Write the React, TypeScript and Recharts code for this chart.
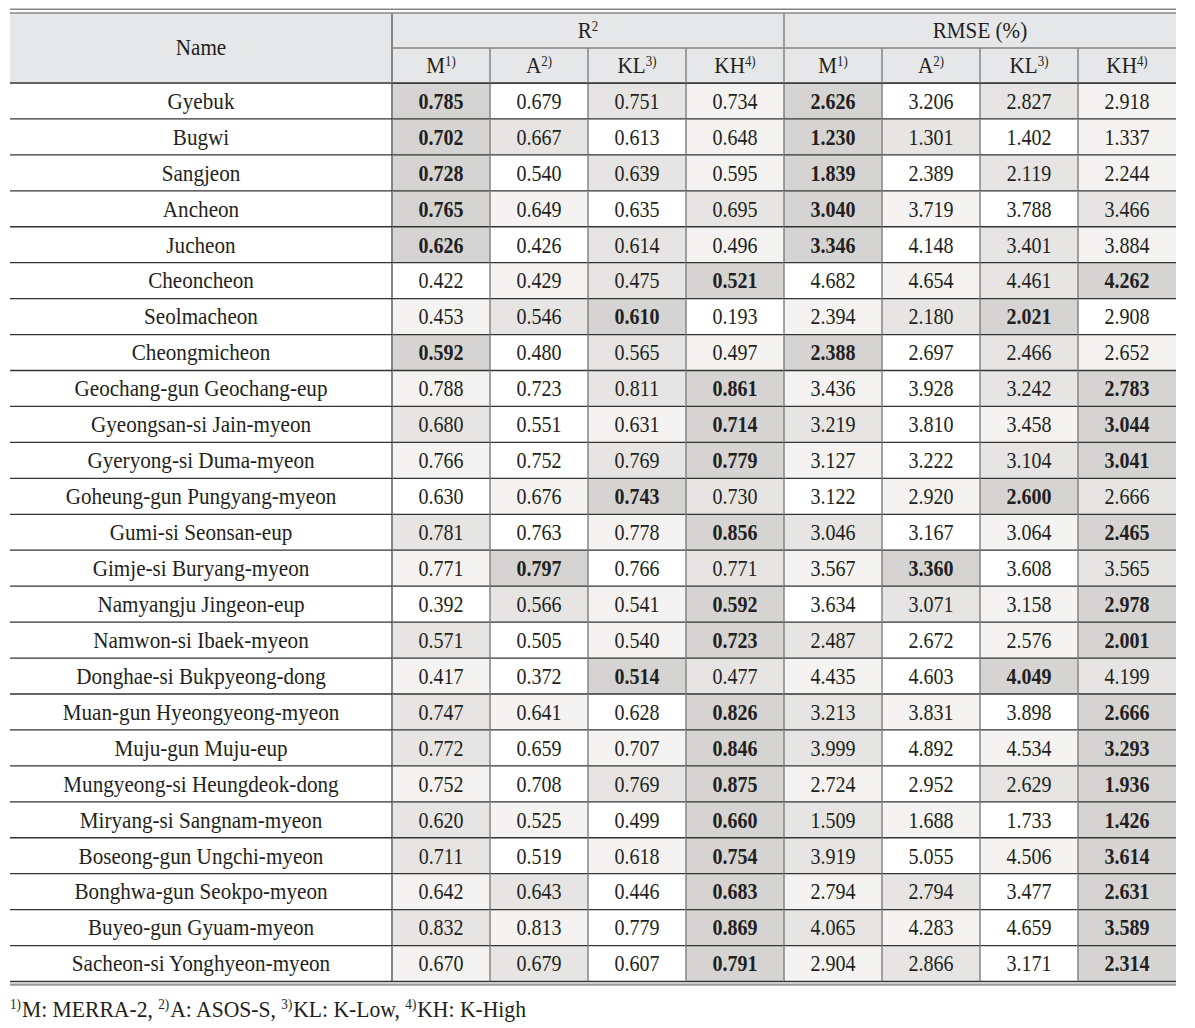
import React from "react";
import { ScatterChart, Scatter, XAxis, YAxis } from "recharts";

const names = [
  "Gyebuk", "Bugwi", "Sangjeon", "Ancheon", "Jucheon", "Cheoncheon", "Seolmacheon", "Cheongmicheon",
  "Geochang-gun Geochang-eup", "Gyeongsan-si Jain-myeon", "Gyeryong-si Duma-myeon", "Goheung-gun Pungyang-myeon",
  "Gumi-si Seonsan-eup", "Gimje-si Buryang-myeon", "Namyangju Jingeon-eup", "Namwon-si Ibaek-myeon",
  "Donghae-si Bukpyeong-dong", "Muan-gun Hyeongyeong-myeon", "Muju-gun Muju-eup", "Mungyeong-si Heungdeok-dong",
  "Miryang-si Sangnam-myeon", "Boseong-gun Ungchi-myeon", "Bonghwa-gun Seokpo-myeon", "Buyeo-gun Gyuam-myeon",
  "Sacheon-si Yonghyeon-myeon",
];

// R2 per source
const r2M = [0.785, 0.702, 0.728, 0.765, 0.626, 0.422, 0.453, 0.592, 0.788, 0.68, 0.766, 0.63, 0.781, 0.771, 0.392, 0.571, 0.417, 0.747, 0.772, 0.752, 0.62, 0.711, 0.642, 0.832, 0.67];
const r2A = [0.679, 0.667, 0.54, 0.649, 0.426, 0.429, 0.546, 0.48, 0.723, 0.551, 0.752, 0.676, 0.763, 0.797, 0.566, 0.505, 0.372, 0.641, 0.659, 0.708, 0.525, 0.519, 0.643, 0.813, 0.679];
const r2KL = [0.751, 0.613, 0.639, 0.635, 0.614, 0.475, 0.61, 0.565, 0.811, 0.631, 0.769, 0.743, 0.778, 0.766, 0.541, 0.54, 0.514, 0.628, 0.707, 0.769, 0.499, 0.618, 0.446, 0.779, 0.607];
const r2KH = [0.734, 0.648, 0.595, 0.695, 0.496, 0.521, 0.193, 0.497, 0.861, 0.714, 0.779, 0.73, 0.856, 0.771, 0.592, 0.723, 0.477, 0.826, 0.846, 0.875, 0.66, 0.754, 0.683, 0.869, 0.791];

// RMSE (%) per source
const rmseM = [2.626, 1.23, 1.839, 3.04, 3.346, 4.682, 2.394, 2.388, 3.436, 3.219, 3.127, 3.122, 3.046, 3.567, 3.634, 2.487, 4.435, 3.213, 3.999, 2.724, 1.509, 3.919, 2.794, 4.065, 2.904];
const rmseA = [3.206, 1.301, 2.389, 3.719, 4.148, 4.654, 2.18, 2.697, 3.928, 3.81, 3.222, 2.92, 3.167, 3.36, 3.071, 2.672, 4.603, 3.831, 4.892, 2.952, 1.688, 5.055, 2.794, 4.283, 2.866];
const rmseKL = [2.827, 1.402, 2.119, 3.788, 3.401, 4.461, 2.021, 2.466, 3.242, 3.458, 3.104, 2.6, 3.064, 3.608, 3.158, 2.576, 4.049, 3.898, 4.534, 2.629, 1.733, 4.506, 3.477, 4.659, 3.171];
const rmseKH = [2.918, 1.337, 2.244, 3.466, 3.884, 4.262, 2.908, 2.652, 2.783, 3.044, 3.041, 2.666, 2.465, 3.565, 2.978, 2.001, 4.199, 2.666, 3.293, 1.936, 1.426, 3.614, 2.631, 3.589, 2.314];

const groupLabels = ["R", "RMSE (%)"];
const groupSups = ["2", ""];
const sources = ["M", "A", "KL", "KH"];
const sourceNotes = ["1)", "2)", "3)", "4)"];
const sourceNames = ["MERRA-2", "ASOS-S", "K-Low", "K-High"];

const W = 1195;
const H = 1028;
const LEFT = 10;
const NAME_W = 382;
const RIGHT = 1176;
const HEAD_TOP = 13.5;
const HEAD_MID = 48;
const HEAD_BOT = 83;
const TABLE_BOT = 981.5;
const COL_W = (RIGHT - LEFT - NAME_W) / 8;
const ROW_H = (TABLE_BOT - HEAD_BOT) / names.length;

const FONT = '"Liberation Serif", "Times New Roman", serif';
const INK = "#231f20";
const DARK = "#333";
const GRAY = "#858585";
const HEAD_BG = "#e6e7e8";
const SHADES = ["#d5d4d3", "#e6e5e4", "#f4f3f2", "#ffffff"];
const FS = 23;
const SX_NUM = 0.87;
const SX_TXT = 0.92;
const SX_NOTE = 0.94;

const groups = [
  { values: [r2M, r2A, r2KL, r2KH], higherBetter: true },
  { values: [rmseM, rmseA, rmseKL, rmseKH], higherBetter: false },
];

type Pt = { col: string; row: string; value: number; rank: number; g: number; i: number; r: number };
const points: Pt[] = [];
names.forEach((name, r) => {
  groups.forEach((grp, g) => {
    const vals = grp.values.map((a) => a[r]);
    const order = vals
      .map((_, i) => i)
      .sort((a, b) => {
        if (vals[a] !== vals[b]) return grp.higherBetter ? vals[b] - vals[a] : vals[a] - vals[b];
        return b - a;
      });
    vals.forEach((v, i) => {
      points.push({ col: `${g}-${i}`, row: name, value: v, rank: order.indexOf(i), g, i, r });
    });
  });
});

function Label({ x, y, bold, sx = SX_TXT, children }: any) {
  return (
    <text
      transform={`translate(${x},${y}) scale(${sx},1)`}
      textAnchor="middle"
      fontFamily={FONT}
      fontSize={FS}
      fontWeight={bold ? 700 : 400}
      fill={INK}
    >
      {children}
    </text>
  );
}

function CellShape(props: any) {
  const { cx, cy, payload } = props;
  return (
    <g>
      <rect x={cx - COL_W / 2} y={cy - ROW_H / 2} width={COL_W} height={ROW_H} fill={SHADES[payload.rank]} />
      <Label x={cx} y={cy + 7.8} sx={SX_NUM} bold={payload.rank === 0}>
        {payload.value.toFixed(3)}
      </Label>
    </g>
  );
}

function RuleShape(props: any) {
  const { cx, cy, payload } = props;
  const x0 = cx - COL_W / 2;
  const x1 = cx + COL_W / 2;
  const y0 = cy - ROW_H / 2;
  const y1 = cy + ROW_H / 2;
  const first = payload.g === 0 && payload.i === 0;
  const last = payload.r === names.length - 1;
  return (
    <g>
      <line x1={x0} x2={x0} y1={y0} y2={y1} stroke={GRAY} strokeWidth={first ? 2 : 1.5} />
      {payload.r === 0 && <line x1={x0} x2={x1} y1={y0} y2={y0} stroke={DARK} strokeWidth={1.3} />}
      <line x1={x0} x2={x1} y1={y1} y2={y1} stroke={DARK} strokeWidth={1.3} />
      {last && <line x1={x0} x2={x1} y1={y1 + 3.2} y2={y1 + 3.2} stroke="#999" strokeWidth={2.3} />}
    </g>
  );
}

function NameTick(props: any) {
  const { y, payload } = props;
  const yb = y + ROW_H / 2;
  const last = payload.value === names[names.length - 1];
  return (
    <g>
      <Label x={LEFT + NAME_W / 2} y={y + 7.8}>
        {payload.value}
      </Label>
      <line x1={LEFT} x2={LEFT + NAME_W} y1={yb} y2={yb} stroke={DARK} strokeWidth={1.3} />
      {last && <line x1={LEFT} x2={LEFT + NAME_W} y1={yb + 3.2} y2={yb + 3.2} stroke="#999" strokeWidth={2.3} />}
    </g>
  );
}

function HeadTick(props: any) {
  const { x, payload, index } = props;
  const [g, i] = String(payload.value).split("-").map(Number);
  const x0 = x - COL_W / 2;
  return (
    <g>
      {index === 0 && (
        <g>
          <rect x={LEFT} y={HEAD_TOP} width={RIGHT - LEFT} height={HEAD_BOT - HEAD_TOP} fill={HEAD_BG} />
          <line x1={LEFT} x2={RIGHT} y1={9.2} y2={9.2} stroke={GRAY} strokeWidth={1.5} />
          <line x1={LEFT} x2={RIGHT} y1={13} y2={13} stroke={GRAY} strokeWidth={1.5} />
          <Label x={LEFT + NAME_W / 2} y={(HEAD_TOP + HEAD_BOT) / 2 + 7}>
            Name
          </Label>
          <line x1={LEFT + NAME_W} x2={RIGHT} y1={HEAD_MID} y2={HEAD_MID} stroke="#555" strokeWidth={1.2} />
          <line x1={LEFT} x2={RIGHT} y1={HEAD_BOT} y2={HEAD_BOT} stroke={DARK} strokeWidth={1.3} />
        </g>
      )}
      {i === 0 && (
        <g>
          <line x1={x0} x2={x0} y1={HEAD_TOP} y2={HEAD_BOT} stroke={GRAY} strokeWidth={g === 0 ? 2 : 1.5} />
          <Label x={x0 + 2 * COL_W} y={(HEAD_TOP + HEAD_MID) / 2 + 7}>
            {groupLabels[g]}
            {groupSups[g] && (
              <tspan fontSize={14} dy={-7}>
                {groupSups[g]}
              </tspan>
            )}
          </Label>
        </g>
      )}
      {i > 0 && <line x1={x0} x2={x0} y1={HEAD_MID} y2={HEAD_BOT} stroke={GRAY} strokeWidth={1.5} />}
      <Label x={x} y={(HEAD_MID + HEAD_BOT) / 2 + 7}>
        {sources[i]}
        <tspan fontSize={14} dy={-7}>
          {sourceNotes[i]}
        </tspan>
      </Label>
    </g>
  );
}

export default function App() {
  return (
    <div style={{ position: "absolute", left: 0, top: 0, width: W, height: H, background: "#fff" }}>
      <ScatterChart
        width={W}
        height={H}
        margin={{ top: HEAD_MID, right: W - RIGHT, bottom: H - TABLE_BOT, left: LEFT }}
      >
        <XAxis
          xAxisId={0}
          type="category"
          dataKey="col"
          orientation="top"
          height={HEAD_BOT - HEAD_MID}
          allowDuplicatedCategory={false}
          interval={0}
          axisLine={false}
          tickLine={false}
          tick={<HeadTick />}
        />
        <YAxis
          yAxisId={0}
          type="category"
          dataKey="row"
          width={NAME_W}
          reversed
          allowDuplicatedCategory={false}
          interval={0}
          axisLine={false}
          tickLine={false}
          tick={<NameTick />}
        />
        <Scatter data={points} shape={<CellShape />} isAnimationActive={false} />
        <Scatter data={points} shape={<RuleShape />} isAnimationActive={false} />
      </ScatterChart>
      <div
        style={{
          position: "absolute",
          left: LEFT,
          top: 998,
          fontFamily: FONT,
          fontSize: FS,
          lineHeight: "23px",
          color: INK,
          whiteSpace: "nowrap",
          transform: `scaleX(${SX_NOTE})`,
          transformOrigin: "left top",
        }}
      >
        {sources.map((s, k) => (
          <span key={s}>
            {k > 0 ? ", " : ""}
            <span style={{ fontSize: 14, position: "relative", top: -8, marginRight: 1 }}>{sourceNotes[k]}</span>
            {s}: {sourceNames[k]}
          </span>
        ))}
      </div>
    </div>
  );
}
